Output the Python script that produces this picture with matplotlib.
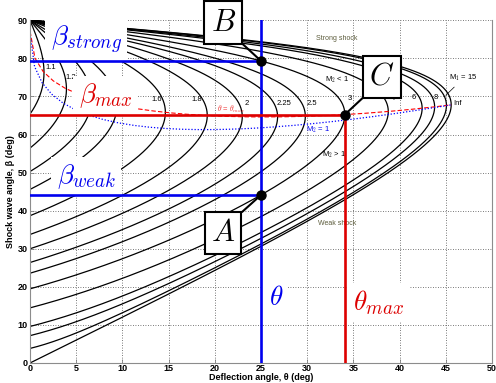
import numpy as np
import matplotlib
matplotlib.use("Agg")
import matplotlib.pyplot as plt

plt.rcParams['mathtext.fontset'] = 'cm'
plt.rcParams['font.family'] = ['Liberation Sans', 'DejaVu Sans']

# Oblique-shock theta-beta-M relation
gamma = 1.4
mach_numbers = [1.1, 1.2, 1.3, 1.4, 1.6, 1.8, 2.0, 2.25, 2.5, 3.0, 4.0, 6.0, 8.0, 15.0, np.inf]
mach_labels = ["1.1", "1.2", "1.6", "1.8", "2", "2.25", "2.5", "3", "4", "6", "8"]
mach_label_pos = [(2.3, 77.7), (4.4, 75.0), (13.7, 69.3), (18.1, 69.3), (23.5, 68.2),
                  (27.5, 68.2), (30.5, 68.2), (34.6, 69.5), (39.3, 69.5), (41.5, 69.6), (43.9, 69.6)]
example_mach = 3.0
example_theta = 25.0

x_ticks = list(range(0, 51, 5))
y_ticks = list(range(0, 91, 10))


def theta_deg(beta_deg, M):
    b = np.radians(beta_deg)
    if np.isinf(M):
        t = np.arctan2(np.sin(2 * b), gamma + np.cos(2 * b))
    else:
        num = 2.0 / np.tan(b) * (M**2 * np.sin(b)**2 - 1.0)
        den = M**2 * (gamma + np.cos(2 * b)) + 2.0
        t = np.arctan(num / den)
    return np.degrees(t)


def branch(M, n=3000):
    b0 = 0.0 if np.isinf(M) else np.degrees(np.arcsin(1.0 / M))
    beta = np.linspace(b0 + 1e-6, 90.0 - 1e-9, n)
    beta = np.append(beta, 90.0)
    th = theta_deg(beta, M)
    th[-1] = 0.0
    return beta, th


def max_point(M):
    beta, th = branch(M, 20000)
    i = np.argmax(th)
    return th[i], beta[i], beta, th


def sonic_point(M):
    tmax, bmax, beta, th = max_point(M)
    mask = beta <= bmax
    b = np.radians(beta[mask])
    t = np.radians(th[mask])
    Mi = 1e6 if np.isinf(M) else M
    mn1 = Mi * np.sin(b)
    mn2sq = (1 + 0.5 * (gamma - 1) * mn1**2) / (gamma * mn1**2 - 0.5 * (gamma - 1))
    m2 = np.sqrt(mn2sq) / np.sin(b - t + 1e-12)
    j = np.argmin(np.abs(m2[1:] - 1.0)) + 1
    return th[mask][j], beta[mask][j]


fig = plt.figure(figsize=(4.96, 3.83), dpi=100)
ax = fig.add_axes([30 / 496, 1 - 363 / 383, 462 / 496, (363 - 20.3) / 383])

for M in mach_numbers:
    beta, th = branch(M)
    ax.plot(th, beta, color='black', lw=0.9, zorder=2)

# Loci of maximum deflection and sonic downstream flow
locus_mach = np.concatenate([np.geomspace(1.004, 1000, 160), [np.inf]])
tm, bm, ts, bs = [], [], [], []
for M in locus_mach:
    a, b, _, _ = max_point(M)
    tm.append(a); bm.append(b)
    c, d = sonic_point(M)
    ts.append(c); bs.append(d)
ax.plot(tm, bm, color='red', ls=(0, (4, 2)), lw=0.8, zorder=2.5)
ax.plot(ts, bs, color='blue', ls=(0, (1, 1.5)), lw=0.9, zorder=2.5)

# Example: M1 = 3 at a 25 degree deflection
beta3, th3 = branch(example_mach, 20000)
k = np.argmax(th3)
theta_max3, beta_max3 = th3[k], beta3[k]
beta_weak = np.interp(example_theta, th3[:k + 1], beta3[:k + 1])
beta_strong = np.interp(example_theta, th3[k:][::-1], beta3[k:][::-1])

blue = '#0000ee'
red = '#dd0000'
ax.plot([0, example_theta], [beta_strong, beta_strong], color=blue, lw=1.9, zorder=4)
ax.plot([0, example_theta], [beta_weak, beta_weak], color=blue, lw=1.9, zorder=4)
ax.plot([example_theta, example_theta], [0, 90], color=blue, lw=1.9, zorder=4)
ax.plot([0, theta_max3], [beta_max3, beta_max3], color=red, lw=1.9, zorder=4)
ax.plot([theta_max3, theta_max3], [0, beta_max3], color=red, lw=1.9, zorder=4)

ax.plot([example_theta, example_theta, theta_max3], [beta_strong, beta_weak, beta_max3],
        'o', color='black', ms=6.5, zorder=6)

# Callout boxes
box = dict(boxstyle='square,pad=0.2', fc='white', ec='black', lw=1.5)
line = dict(arrowstyle='-', color='black', lw=1.5, shrinkA=0, shrinkB=0)
ax.annotate('$B$', xy=(example_theta, beta_strong), xytext=(20.9, 89.4), fontsize=22,
            ha='center', va='center', bbox=box,
            arrowprops=dict(line, relpos=(1, 0)), zorder=7, annotation_clip=False)
ax.annotate('$A$', xy=(example_theta, beta_weak), xytext=(20.9, 34.1), fontsize=22,
            ha='center', va='center', bbox=box,
            arrowprops=dict(line, relpos=(1, 1)), zorder=7)
ax.annotate('$C$', xy=(theta_max3, beta_max3), xytext=(38.1, 75.2), fontsize=22,
            ha='center', va='center', bbox=box,
            arrowprops=dict(line, relpos=(0, 0)), zorder=7)

# Symbol labels on white backgrounds
wbg = dict(boxstyle='square,pad=0.2', fc='white', ec='none')
ax.text(6.1, 84.8, r'$\beta_{strong}$', color=blue, fontsize=19.5, ha='center', va='center', bbox=wbg, zorder=3)
ax.text(8.2, 70.3, r'$\beta_{max}$', color=red, fontsize=19.5, ha='center', va='center', bbox=wbg, zorder=3)
ax.text(6.1, 49.0, r'$\beta_{weak}$', color=blue, fontsize=19.5, ha='center', va='center', bbox=wbg, zorder=3)
ax.text(26.6, 17.0, r'$\theta$', color=blue, fontsize=19.5, ha='center', va='center', bbox=wbg, zorder=3)
ax.text(37.7, 15.9, r'$\theta_{max}$', color=red, fontsize=19.5, ha='center', va='center', bbox=wbg, zorder=3)

# Mach number labels
for lab, (x, y) in zip(mach_labels, mach_label_pos):
    ax.text(x, y, lab, fontsize=5.5, ha='center', va='center',
            zorder=3.5 if lab == "1.1" else 2.8)
ax.annotate('M$_1$ = 15', xy=(45.0, 70.3), xytext=(46.9, 74.8), fontsize=5.5,
            ha='center', va='center',
            arrowprops=dict(arrowstyle='-', color='black', lw=0.5, shrinkA=1, shrinkB=0))
ax.text(46.3, 68.2, 'Inf', fontsize=5.5, ha='center', va='center')
ax.text(33.2, 74.3, 'M$_2$ < 1', fontsize=5.5, ha='center', va='center')
ax.text(31.2, 61.1, 'M$_2$ = 1', fontsize=5.5, color=blue, ha='center', va='center')
ax.text(32.9, 54.6, 'M$_2$ > 1', fontsize=5.5, ha='center', va='center')
ax.text(21.8, 66.6, r'$\theta$ = $\theta_{max}$', fontsize=5.5, color='#ee3333',
        ha='center', va='center')
ax.text(33.2, 85.3, 'Strong shock', fontsize=5, color='#5c5c3c', ha='center', va='center')
ax.text(33.2, 36.6, 'Weak shock', fontsize=5, color='#5c5c3c', ha='center', va='center')

ax.set_xlim(0, 50)
ax.set_ylim(0, 90)
ax.set_xticks(x_ticks)
ax.set_yticks(y_ticks)
ax.grid(True, color='0.3', ls=(0, (1, 2)), lw=0.6)
ax.set_axisbelow(True)
ax.tick_params(direction='in', length=3, width=0.6, color='0.5', labelsize=6.5, pad=1.5)
ax.tick_params(axis='x', pad=0.8)
for lab in ax.get_xticklabels() + ax.get_yticklabels():
    lab.set_fontweight('bold')
for s in ['left', 'bottom', 'right']:
    ax.spines[s].set_color('0.55')
    ax.spines[s].set_linewidth(0.8)
ax.spines['top'].set_visible(False)
fig.text(261 / 496, 1 - 380.3 / 383, 'Deflection angle, θ (deg)', fontsize=6.5,
         fontweight='bold', ha='center', va='baseline')
ax.set_ylabel('Shock wave angle, β (deg)', fontsize=6.5, fontweight='bold', labelpad=2)

fig.savefig('out.png', dpi=100)
